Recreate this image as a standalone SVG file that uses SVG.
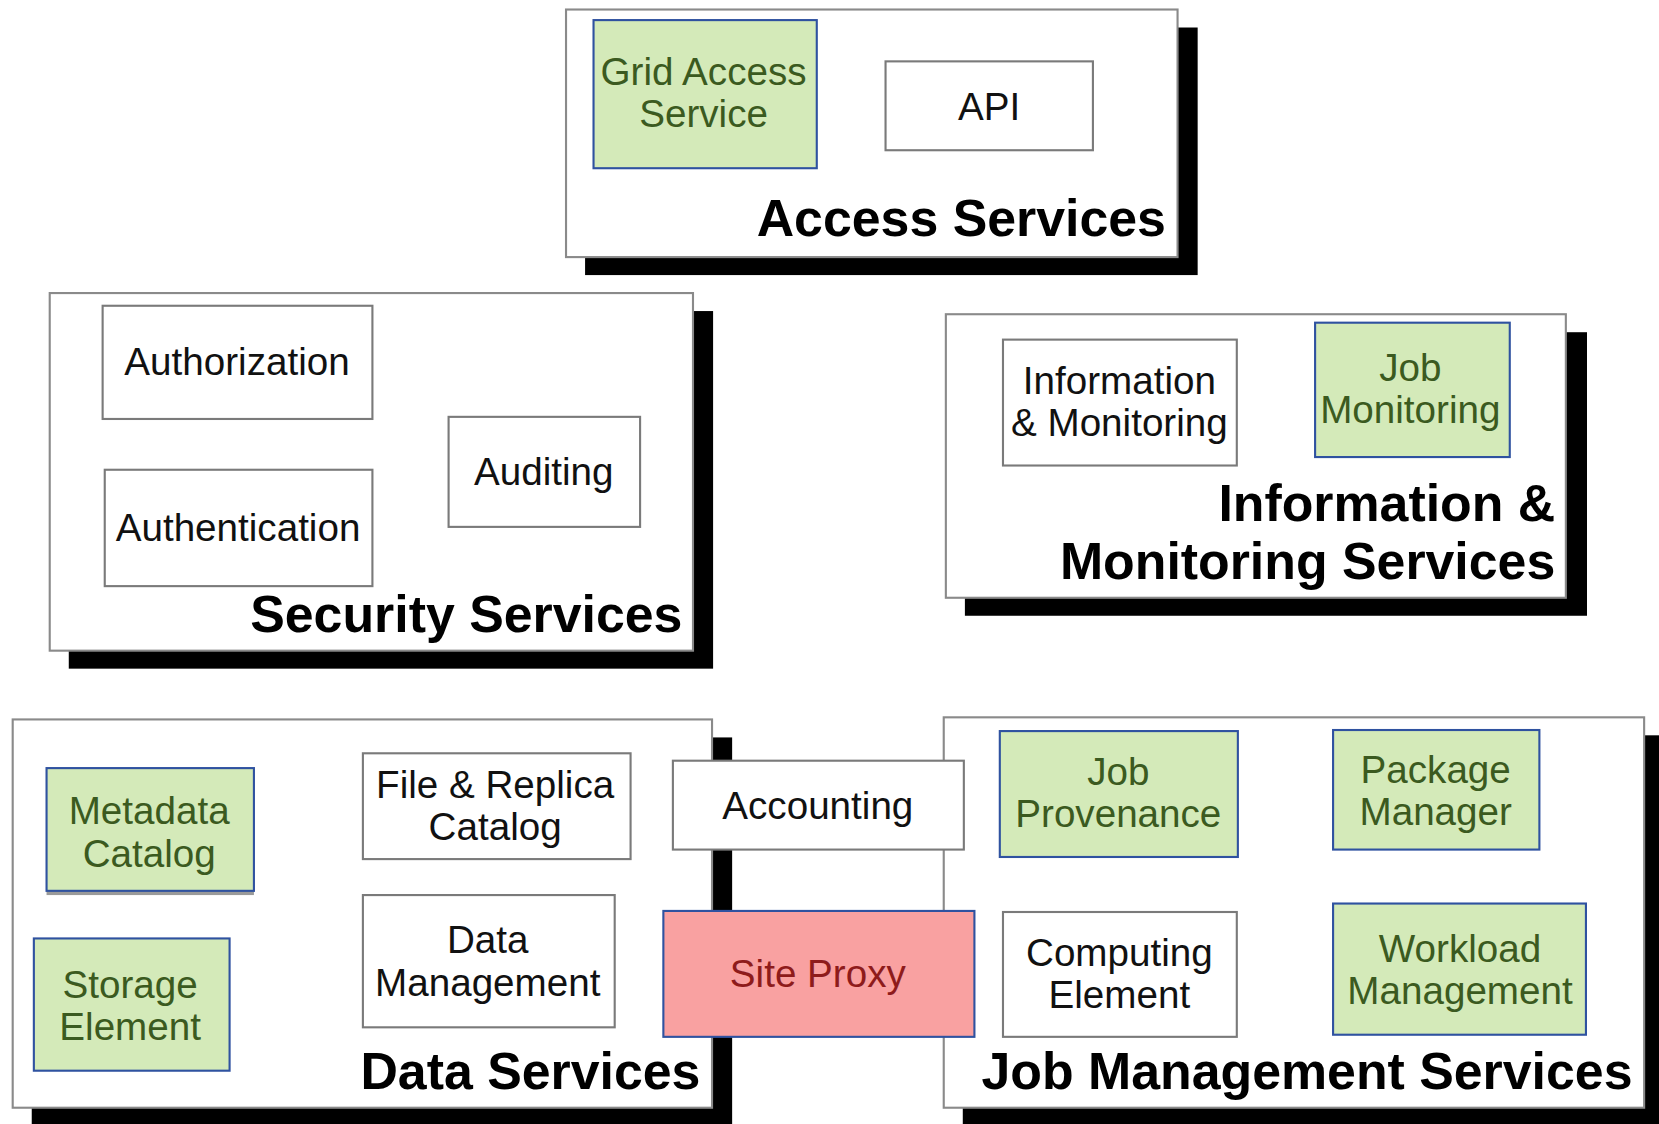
<svg xmlns="http://www.w3.org/2000/svg" width="1659" height="1124" viewBox="0 0 1659 1124">
<style>
.shadow{fill:#000}
.outer{fill:#fff;stroke:#8a8a8a;stroke-width:2}
.wbox{fill:#fff;stroke:#7a7a7a;stroke-width:2}
.gbox{fill:#d4eab9;stroke:#2f52a0;stroke-width:2}
.rbox{fill:#f9a1a1;stroke:#2f52a0;stroke-width:2}
.t{font-family:"Liberation Sans",Arial,sans-serif;font-size:36.5px;text-anchor:middle;fill:#111}
.tg{fill:#3b5a20}
.tr{fill:#8e1b1b}
.title{font-family:"Liberation Sans",Arial,sans-serif;font-size:49px;font-weight:bold;text-anchor:end;fill:#000}
</style>
<rect width="1659" height="1124" fill="#fff"/>
<g transform="scale(1.058)">
<g id="access-services">
<rect class="shadow" x="553" y="26" width="579" height="234"/>
<rect class="outer" x="535" y="9" width="578" height="234"/>
<text class="title" x="1102" y="223">Access Services</text>
</g>
<g id="grid-access-service">
<rect class="gbox" x="561" y="19" width="211" height="140"/>
<text class="t tg" x="665" y="80">Grid Access</text>
<text class="t tg" x="665" y="120">Service</text>
</g>
<g id="api">
<rect class="wbox" x="837" y="58" width="196" height="84"/>
<text class="t" x="935" y="113">API</text>
</g>

<g id="security-services">
<rect class="shadow" x="65" y="294" width="609" height="338"/>
<rect class="outer" x="47" y="277" width="608" height="338"/>
<text class="title" x="645" y="597">Security Services</text>
</g>
<g id="authorization">
<rect class="wbox" x="97" y="289" width="255" height="107"/>
<text class="t" x="224" y="354">Authorization</text>
</g>
<g id="authentication">
<rect class="wbox" x="99" y="444" width="253" height="110"/>
<text class="t" x="225" y="511">Authentication</text>
</g>
<g id="auditing">
<rect class="wbox" x="424" y="394" width="181" height="104"/>
<text class="t" x="514" y="458">Auditing</text>
</g>

<g id="information-monitoring-services">
<rect class="shadow" x="912" y="314" width="588" height="268"/>
<rect class="outer" x="894" y="297" width="586" height="268"/>
<text class="title" x="1470" y="492">Information &amp;</text>
<text class="title" x="1470" y="547">Monitoring Services</text>
</g>
<g id="information-monitoring">
<rect class="wbox" x="948" y="321" width="221" height="119"/>
<text class="t" x="1058" y="372">Information</text>
<text class="t" x="1058" y="412">&amp; Monitoring</text>
</g>
<g id="job-monitoring">
<rect class="gbox" x="1243" y="305" width="184" height="127"/>
<text class="t tg" x="1333" y="360">Job</text>
<text class="t tg" x="1333" y="400">Monitoring</text>
</g>

<g id="data-services">
<rect class="shadow" x="30" y="697" width="662" height="380"/>
<rect class="outer" x="12" y="680" width="661" height="367"/>
<text class="title" x="662" y="1029">Data Services</text>
</g>
<g id="metadata-catalog">
<rect x="44" y="730" width="196" height="116" fill="#9a9a9a"/>
<rect class="gbox" x="44" y="726" width="196" height="116"/>
<text class="t tg" x="141" y="779">Metadata</text>
<text class="t tg" x="141" y="819">Catalog</text>
</g>
<g id="storage-element">
<rect class="gbox" x="32" y="887" width="185" height="125"/>
<text class="t tg" x="123" y="943">Storage</text>
<text class="t tg" x="123" y="983">Element</text>
</g>
<g id="file-replica-catalog">
<rect class="wbox" x="343" y="712" width="253" height="100"/>
<text class="t" x="468" y="754">File &amp; Replica</text>
<text class="t" x="468" y="794">Catalog</text>
</g>
<g id="data-management">
<rect class="wbox" x="343" y="846" width="238" height="125"/>
<text class="t" x="461" y="901">Data</text>
<text class="t" x="461" y="941">Management</text>
</g>

<g id="job-management-services">
<rect class="shadow" x="910" y="695" width="662" height="382"/>
<rect class="outer" x="892" y="678" width="662" height="369"/>
<text class="title" x="1543" y="1029">Job Management Services</text>
</g>
<g id="job-provenance">
<rect class="gbox" x="945" y="691" width="225" height="119"/>
<text class="t tg" x="1057" y="742">Job</text>
<text class="t tg" x="1057" y="782">Provenance</text>
</g>
<g id="package-manager">
<rect class="gbox" x="1260" y="690" width="195" height="113"/>
<text class="t tg" x="1357" y="740">Package</text>
<text class="t tg" x="1357" y="780">Manager</text>
</g>
<g id="computing-element">
<rect class="wbox" x="948" y="862" width="221" height="118"/>
<text class="t" x="1058" y="913">Computing</text>
<text class="t" x="1058" y="953">Element</text>
</g>
<g id="workload-management">
<rect class="gbox" x="1260" y="854" width="239" height="124"/>
<text class="t tg" x="1380" y="909">Workload</text>
<text class="t tg" x="1380" y="949">Management</text>
</g>

<g id="accounting">
<rect class="wbox" x="636" y="719" width="275" height="84"/>
<text class="t" x="773" y="774">Accounting</text>
</g>
<g id="site-proxy">
<rect class="rbox" x="627" y="861" width="294" height="119"/>
<text class="t tr" x="773" y="933">Site Proxy</text>
</g>
<g id="connectors"></g>
</g>
</svg>
